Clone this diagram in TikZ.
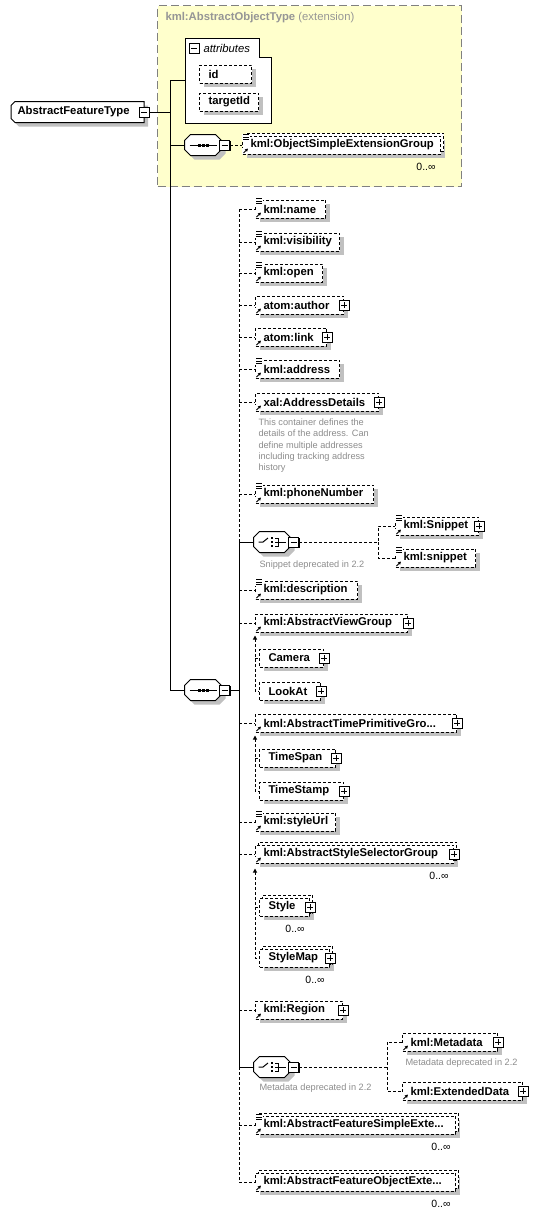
\documentclass[tikz,border=0pt]{standalone}
\usepackage{fontspec}
\setmainfont{Liberation Sans}
\usetikzlibrary{shadows,arrows.meta}
\definecolor{shgray}{RGB}{192,192,192}
\definecolor{objyellow}{RGB}{255,255,204}
\definecolor{notegray}{RGB}{140,140,140}
\definecolor{titlegray}{RGB}{150,150,150}
% outlines of the compositor and root shapes
\newcommand\octopath[1]{([xshift=6pt]#1.north west) -- ([xshift=-6pt]#1.north east) -- ([yshift=-6pt]#1.north east) -- ([yshift=6pt]#1.south east)
  -- ([xshift=-6pt]#1.south east) -- ([xshift=6pt]#1.south west) -- ([yshift=6pt]#1.south west) -- ([yshift=-6pt]#1.north west) -- cycle}
\newcommand\rootpath[1]{([xshift=4pt]#1.north west) -- (#1.north east) -- (#1.south east) -- ([xshift=4pt]#1.south west)
  -- ([yshift=4pt]#1.south west) -- ([yshift=-4pt]#1.north west) -- cycle}
\newcommand\octo[1]{%
  \begin{scope}[transform canvas={xshift=4pt,yshift=-4pt}]\fill[shgray] \octopath{#1};\end{scope}
  \filldraw[fill=white,solid] \octopath{#1};}
% small marks inside the element boxes
\newcommand\simplemark[1]{%
  \fill[white] ([yshift=2pt]#1.north west) rectangle ([xshift=8pt,yshift=-5pt]#1.north west);
  \foreach \dy in {1,-1.5,-4} \draw[solid,line width=0.8pt] ([xshift=1pt,yshift=\dy pt]#1.north west) -- ++(6pt,0pt);}
\newcommand\refmark[1]{%
  \fill[white] ([yshift=1pt]#1.south west) rectangle ([xshift=7pt,yshift=7pt]#1.south west);
  \draw[solid,line width=0.9pt,-{Triangle[length=3pt,width=3pt]}] ([xshift=1.5pt,yshift=1.5pt]#1.south west) -- ([xshift=6pt,yshift=6pt]#1.south west);}
\newcommand\seqmark[1]{%
  \draw[solid] ([xshift=5pt]#1.west) -- ([xshift=-5pt]#1.east);
  \foreach \dx in {-4,0,4} \fill ([xshift=\dx pt]#1.center) ++(-1.5pt,-1.5pt) rectangle ++(3pt,3pt);}
\newcommand\choicemark[1]{%
  \draw[solid] ([xshift=5pt]#1.west) -- ([xshift=-9pt]#1.center) -- ([xshift=-4pt,yshift=4pt]#1.center);
  \foreach \dy in {-4,0,4} \fill ([yshift=\dy pt]#1.center) ++(-1.2pt,-1.2pt) rectangle ++(2.4pt,2.4pt);
  \draw[solid] ([xshift=3pt,yshift=4pt]#1.center) -- ([xshift=6pt,yshift=4pt]#1.center) -- ([xshift=6pt,yshift=-4pt]#1.center) -- ([xshift=3pt,yshift=-4pt]#1.center)
    ([xshift=3pt]#1.center) -- ([xshift=-5pt]#1.east);}
\begin{document}
\begin{tikzpicture}[x=1pt,y=-1pt,line width=1pt,
  every node/.style={font=\fontsize{11.3}{13}\selectfont\bfseries},
  dsh/.style={dash pattern=on 3pt off 2pt},
  shad/.style={drop shadow={shadow xshift=4pt,shadow yshift=-4pt,fill=shgray,opacity=1}},
  ebox/.style={draw,dsh,fill=white,shad,anchor=west,minimum height=18pt,inner xsep=0pt,inner ysep=0pt,text width=#1,align=left},
  elem/.style={ebox=#1,execute at begin node=\noindent\hspace*{8pt}},
  grp/.style={ebox=#1,execute at begin node=\noindent\hspace*{9pt}},
  multi/.style={general shadow={shadow xshift=3pt,shadow yshift=3pt,draw,dsh,fill=white}},
  plusbox/.style={draw,solid,fill=white,minimum size=10pt,inner sep=0pt,
    drop shadow={shadow xshift=1pt,shadow yshift=-1pt,fill=black,opacity=1},
    path picture={\draw[solid] ([yshift=-2pt]path picture bounding box.north) -- ([yshift=2pt]path picture bounding box.south)
      ([xshift=2pt]path picture bounding box.west) -- ([xshift=-2pt]path picture bounding box.east);}},
  minusbox/.style={plusbox,path picture={\draw[solid] ([xshift=2pt]path picture bounding box.west) -- ([xshift=-2pt]path picture bounding box.east);}},
  hexa/.style={minimum width=36pt,minimum height=20pt,inner sep=0pt},
  note/.style={font=\fontsize{9.2}{11.3}\selectfont\mdseries,text=notegray,align=left,inner sep=0pt,anchor=west},
  occ/.style={font=\fontsize{10.5}{12}\selectfont\mdseries,inner sep=0pt}]
\useasboundingbox (0,0) rectangle (548,1210);
% base type
\node[draw=gray,dash pattern=on 8pt off 4pt,fill=objyellow,minimum width=304pt,minimum height=181pt,anchor=north west,inner sep=0pt] (objtype) at (157,5) {};
\node[anchor=west,text=titlegray,inner sep=0pt] (objtitle) at (165,18) {kml:AbstractObjectType {\mdseries(extension)}};
% attributes
\node[minimum width=85pt,minimum height=84pt,anchor=north west,inner sep=0pt] (attr) at (185,38) {};
\filldraw[fill=white] (attr.south west) -- (attr.north west) -- ([xshift=-12pt]attr.north east) -- ([xshift=-12pt,yshift=-19pt]attr.north east) -- ([yshift=-19pt]attr.north east) -- (attr.south east) -- cycle;
\node[minusbox] (attrmin) at (194,48) {};
\node[anchor=west,inner sep=0pt,font=\fontsize{11.3}{13}\selectfont\itshape] (attrlbl) at (203,48) {attributes};
\node[grp=52pt] (id) at (199,74) {id};
\node[grp=59pt] (tid) at (199,102) {targetId};
% root
\node[minimum width=132pt,minimum height=20pt,inner sep=0pt,anchor=west] (root) at (11,112) {};
\begin{scope}[transform canvas={xshift=4pt,yshift=-4pt}]\fill[shgray] \rootpath{root};\end{scope}
\filldraw[fill=white] \rootpath{root};
\node[anchor=west,inner sep=0pt] (rootlbl) at ([xshift=6pt]root.west) {AbstractFeatureType};
\node[minusbox] (rootmin) at (root.east) {};
\coordinate (jt) at (170,80);
\coordinate (jb) at (170,690);
% first sequence
\node[hexa] (seqa) at (203,145) {};
\octo{seqa}\seqmark{seqa}
\node[minusbox] (seqamin) at ([xshift=3pt]seqa.east) {};
\node[elem=198pt,multi] (osg) at (242,145) {kml:ObjectSimpleExtensionGroup};
% second sequence
\node[hexa] (seqb) at (203,690) {};
\octo{seqb}\seqmark{seqb}
\node[minusbox] (seqbmin) at ([xshift=3pt]seqb.east) {};
\coordinate (b2top) at (239,209);
\coordinate (b2bot) at (239,1182);
% feature elements
\node[elem=70pt] (name) at (255,209) {kml:name};
\node[elem=84pt] (vis) at (255,242) {kml:visibility};
\node[elem=67pt] (open) at (255,273) {kml:open};
\node[elem=88pt] (author) at (255,305) {atom:author};
\node[elem=71pt] (link) at (255,337) {atom:link};
\node[elem=84pt] (addr) at (255,369) {kml:address};
\node[elem=123pt] (xal) at (255,402) {xal:AddressDetails};
\node[note,anchor=north west] (xalnote) at ([xshift=3pt,yshift=-7pt]xal.south west) {This container defines the\\details of the address. Can\\define multiple addresses\\including tracking address\\history};
\node[elem=118pt] (phone) at (255,494) {kml:phoneNumber};
\node[hexa] (cha) at (272,542) {};
\octo{cha}\choicemark{cha}
\node[minusbox] (chamin) at ([xshift=3pt]cha.east) {};
\node[note] (chanote) at (259,565) {Snippet deprecated in 2.2};
\coordinate (chaj) at (378,542);
\node[elem=83pt] (snipU) at (395,526) {kml:Snippet};
\node[elem=80pt] (snipL) at (395,558) {kml:snippet};
\node[elem=102pt] (descr) at (255,590) {kml:description};
\node[elem=152pt] (avg) at (255,623) {kml:AbstractViewGroup};
\node[grp=64pt] (camera) at (259,658) {Camera};
\node[grp=61pt] (lookat) at (259,691) {LookAt};
\node[elem=201pt] (atpg) at (255,723) {kml:AbstractTimePrimitiveGro...};
\node[grp=76pt] (tspan) at (259,758) {TimeSpan};
\node[grp=84pt] (tstamp) at (259,791) {TimeStamp};
\node[elem=80pt] (surl) at (255,822) {kml:styleUrl};
\node[elem=198pt,multi] (assg) at (255,854) {kml:AbstractStyleSelectorGroup};
\node[grp=50pt,multi] (style) at (259,907) {Style};
\node[grp=70pt,multi] (smap) at (259,958) {StyleMap};
\node[elem=87pt] (region) at (255,1010) {kml:Region};
\node[hexa] (chb) at (272,1067) {};
\octo{chb}\choicemark{chb}
\node[minusbox] (chbmin) at ([xshift=3pt]chb.east) {};
\node[note] (chbnote) at (259,1088) {Metadata deprecated in 2.2};
\coordinate (chbj) at (387,1067);
\node[elem=95pt] (meta) at (402,1042) {kml:Metadata};
\node[note] (metanote) at (405,1063) {Metadata deprecated in 2.2};
\node[elem=120pt] (extd) at (402,1091) {kml:ExtendedData};
\node[elem=200pt,multi] (afse) at (255,1125) {kml:AbstractFeatureSimpleExte...};
\node[elem=200pt,multi] (afoe) at (255,1182) {kml:AbstractFeatureObjectExte...};
% occurrences
\foreach \n in {osg,assg,style,smap,afse,afoe} \node[occ] (\n-o) at ([xshift=-15pt,yshift=-12pt]\n.south east) {0..∞};
% marks and expand boxes
\foreach \n in {osg,name,vis,open,addr,phone,snipU,snipL,descr,surl,afse} \simplemark{\n};
\foreach \n in {osg,name,vis,open,author,link,addr,xal,phone,snipU,snipL,descr,avg,atpg,surl,assg,region,meta,extd,afse,afoe} \refmark{\n};
\foreach \n in {author,link,xal,snipU,avg,camera,lookat,atpg,tspan,tstamp,assg,style,smap,region,meta,extd} \node[plusbox] (\n-p) at (\n.east) {};
% connectors
\draw (rootmin.east) -- (rootmin.east -| jt);
\draw (jt) -- (jb);
\draw (jt) -- (jt -| attr.west);
\draw (seqa.west -| jt) -- (seqa.west);
\draw (jb) -- (seqb.west);
\draw[dsh] (seqamin.east) -- (osg.west);
\draw (seqbmin.east) -- (seqbmin.east -| b2top);
\draw[dsh] (b2top) -- (b2top |- cha.west);
\draw (b2top |- cha.west) -- (b2top |- chb.west);
\draw[dsh] (b2top |- chb.west) -- (b2bot);
\foreach \n in {name,vis,open,author,link,addr,xal,phone,descr,avg,atpg,surl,assg,region,afse,afoe} \draw[dsh] (\n.west -| b2top) -- (\n.west);
\foreach \n in {cha,chb} \draw (\n.west -| b2top) -- (\n.west);
\draw[dsh] (chamin.east) -- (chaj) |- (snipU.west);
\draw[dsh] (chaj) |- (snipL.west);
\draw[dsh] (chbmin.east) -- (chbj) |- (meta.west);
\draw[dsh] (chbj) |- (extd.west);
% substitution groups
\draw[dsh,{Triangle[length=4pt,width=4pt]}-] ([yshift=-3pt]avg.south west) |- (lookat.west);
\draw[dsh] (avg.south west |- camera.west) -- (camera.west);
\draw[dsh,{Triangle[length=4pt,width=4pt]}-] ([yshift=-3pt]atpg.south west) |- (tstamp.west);
\draw[dsh] (atpg.south west |- tspan.west) -- (tspan.west);
\draw[dsh,{Triangle[length=4pt,width=4pt]}-] ([yshift=-5pt]assg.south west) |- (smap.west);
\draw[dsh] (assg.south west |- style.west) -- (style.west);
\end{tikzpicture}
\end{document}
